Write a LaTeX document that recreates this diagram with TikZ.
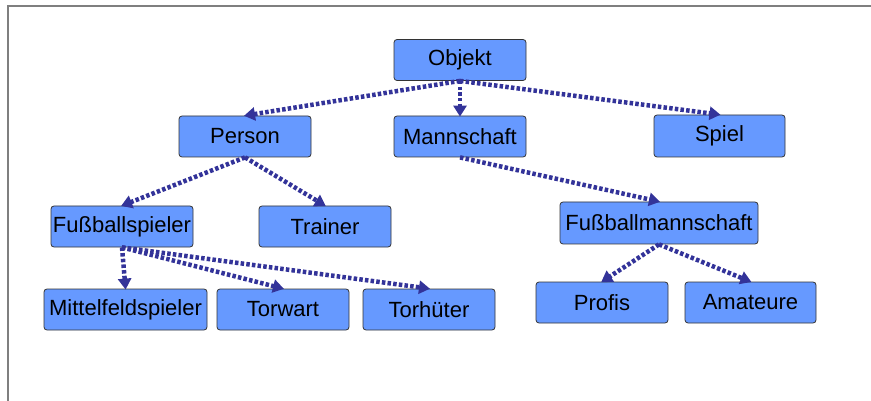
\documentclass[tikz,border=0pt]{standalone}
\usepackage{fontspec}
\setmainfont{Liberation Sans}
\usetikzlibrary{arrows.meta}
\definecolor{boxfill}{HTML}{6699FF}
\definecolor{linkcol}{HTML}{333399}
\definecolor{framecol}{HTML}{7F7F7F}
\begin{document}
\begin{tikzpicture}[x=1pt,y=-1pt,
  cls/.style={draw=black!80, line width=0.8pt, fill=boxfill, rounded corners=3pt,
    inner sep=0pt, font=\fontsize{22}{26}\selectfont},
  link/.style={draw=linkcol, line width=4.5pt, dash pattern=on 3.5pt off 2.2pt,
    -{Triangle[length=11pt,width=13pt]}, shorten >=-1pt}]
\useasboundingbox (0,0) rectangle (871,401);
% page frame
\draw[framecol, line width=2pt] (7.5,401) -- (7.5,6.5) -- (871,6.5);
% boxes: (x,y) centre, width, height
\newcommand{\cbox}[6]{\node[cls, minimum width=#4, minimum height=#5] (#1) at (#2,#3) {#6};}
\cbox{obj}{460}{60}{132}{41}{Objekt}
\cbox{per}{245}{136.5}{132}{41}{Person}
\cbox{man}{460}{136.5}{132}{41}{Mannschaft}
\cbox{spi}{719.5}{136}{131}{42}{Spiel}
\cbox{fsp}{122}{226.5}{142}{41}{Fußballspieler}
\cbox{tra}{325}{226.5}{132}{41}{Trainer}
\cbox{mit}{125.5}{309.5}{163}{41}{Mittelfeldspieler}
\cbox{tor}{283}{309.5}{132}{41}{Torwart}
\cbox{toh}{429}{309.5}{132}{41}{Torhüter}
\cbox{fmn}{659}{223}{198}{42}{Fußballmannschaft}
\cbox{pro}{602}{302.5}{132}{41}{Profis}
\cbox{ama}{750.5}{302.5}{131}{41}{Amateure}
% inheritance links
\draw[link] (obj.south) -- (per.north);
\draw[link] (obj.south) -- (man.north);
\draw[link] (obj.south) -- (spi.north);
\draw[link] (per.south) -- (fsp.north);
\draw[link] (per.south) -- (tra.north);
\draw[link] (man.south) -- (fmn.north);
\draw[link] (fsp.south) -- (mit.north);
\draw[link] (fsp.south) -- (tor.north);
\draw[link] (fsp.south) -- (toh.north);
\draw[link] (fmn.south) -- (pro.north);
\draw[link] (fmn.south) -- (ama.north);
\end{tikzpicture}
\end{document}
